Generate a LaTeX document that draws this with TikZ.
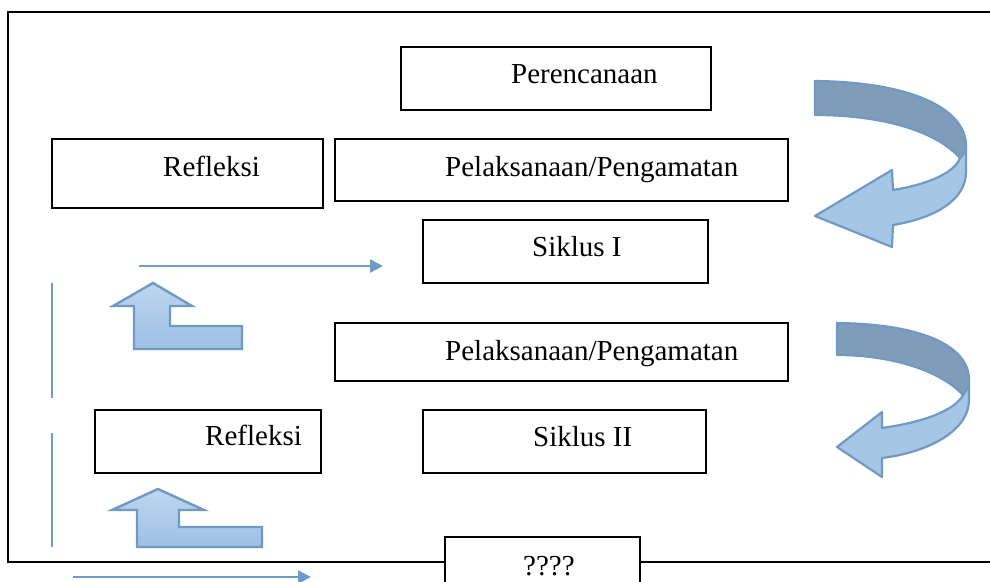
\documentclass[tikz,border=0pt]{standalone}
\usepackage{fontspec}
\setmainfont{Liberation Serif}
\usetikzlibrary{arrows.meta}
\definecolor{arrline}{RGB}{112,153,196}
\definecolor{darkband}{RGB}{127,156,186}
\definecolor{lighttop}{RGB}{190,214,240}
\definecolor{lightbot}{RGB}{157,192,228}
\definecolor{lightarr}{RGB}{166,198,230}
\definecolor{connc}{RGB}{110,155,200}
\tikzset{
  box/.style={draw=black, line width=1.6pt, fill=white, anchor=north west, inner sep=0pt, outer sep=0pt},
  lbl/.style={anchor=base west, inner sep=0pt, font=\fontsize{29}{34}\selectfont},
  bent/.style={draw=arrline, line width=2.4pt, top color=lighttop, bottom color=lightbot, line join=miter},
  curvlight/.style={draw=arrline, line width=2.2pt, fill=lightarr, line join=round},
  curvdark/.style={draw=arrline, line width=2.2pt, fill=darkband, line join=round},
  conn/.style={draw=connc, line width=2.6pt, -{Triangle[length=13pt,width=13pt]}},
  vline/.style={draw=connc, line width=2.8pt}
}
\begin{document}
\begin{tikzpicture}[x=1pt,y=-1pt]
\clip (0,0) rectangle (990,581);
\fill[white] (0,0) rectangle (990,581);
% outer frame
\draw[line width=1.8pt] (8,12) rectangle (1010,562);
% boxes
\node[box, minimum width=310, minimum height=63] (per) at (401,47) {};
\node[lbl] (perT) at (511,83) {Perencanaan};
\node[box, minimum width=271, minimum height=69] (ref1) at (52,139) {};
\node[lbl] (ref1T) at (163,176) {Refleksi};
\node[box, minimum width=453, minimum height=62] (pel1) at (335,139) {};
\node[lbl] (pel1T) at (445,176) {Pelaksanaan/Pengamatan};
\node[box, minimum width=285, minimum height=63] (sik1) at (423,220) {};
\node[lbl] (sik1T) at (532,256) {Siklus I};
\node[box, minimum width=453, minimum height=58] (pel2) at (335,323) {};
\node[lbl] (pel2T) at (445,360) {Pelaksanaan/Pengamatan};
\node[box, minimum width=226, minimum height=63] (ref2) at (95,410) {};
\node[lbl] (ref2T) at (205,445) {Refleksi};
\node[box, minimum width=283, minimum height=63] (sik2) at (423,410) {};
\node[lbl] (sik2T) at (533,446) {Siklus II};
\node[box, minimum width=195, minimum height=70] (q) at (445,537) {};
\node[lbl] (qT) at (523,575) {????};
% straight connector arrows
\coordinate (a1s) at (139,266); \coordinate (a1e) at (383,266);
\draw[conn] (a1s) -- (a1e);
\coordinate (a2s) at (73,577); \coordinate (a2e) at (311,577);
\draw[conn] (a2s) -- (a2e);
% vertical lines
\coordinate (v1s) at (52,283); \coordinate (v1e) at (52,398);
\draw[vline] (v1s) -- (v1e);
\coordinate (v2s) at (52,433); \coordinate (v2e) at (52,547);
\draw[vline] (v2s) -- (v2e);
% bent-up arrows
\draw[bent] (153,283) -- (192,306) -- (170,306) -- (170,326) -- (242,326) -- (242,349) -- (134,349) -- (134,306) -- (113,306) -- cycle;
\draw[bent] (158,489) -- (204,510) -- (179,510) -- (179,527) -- (262,527) -- (262,547) -- (137,547) -- (137,510) -- (112,510) -- cycle;
% curved arrow 1
\draw[curvlight] (960,158) .. controls (963,154) and (966,150) .. (966,146) -- (966,172)
  .. controls (966,200) and (935,218) .. (893,225) -- (892,247) -- (815,216) -- (892,170) -- (893,190)
  .. controls (930,184) and (955,172) .. (960,158) -- cycle;
\draw[curvdark] (815,81) .. controls (910,82) and (966,108) .. (966,146)
  .. controls (966,152) and (963,155) .. (960,158)
  .. controls (935,130) and (880,115) .. (815,115) -- cycle;
% curved arrow 2
\draw[curvlight] (963,395) .. controls (966,390) and (969,386) .. (969,380) -- (969,400)
  .. controls (969,430) and (930,452) .. (882,458) -- (882,477) -- (837,447) -- (882,412) -- (882,428)
  .. controls (925,422) and (955,410) .. (963,395) -- cycle;
\draw[curvdark] (837,323) .. controls (920,324) and (969,345) .. (969,380)
  .. controls (969,387) and (966,391) .. (963,395)
  .. controls (940,370) and (890,355) .. (837,355) -- cycle;
\end{tikzpicture}
\end{document}
